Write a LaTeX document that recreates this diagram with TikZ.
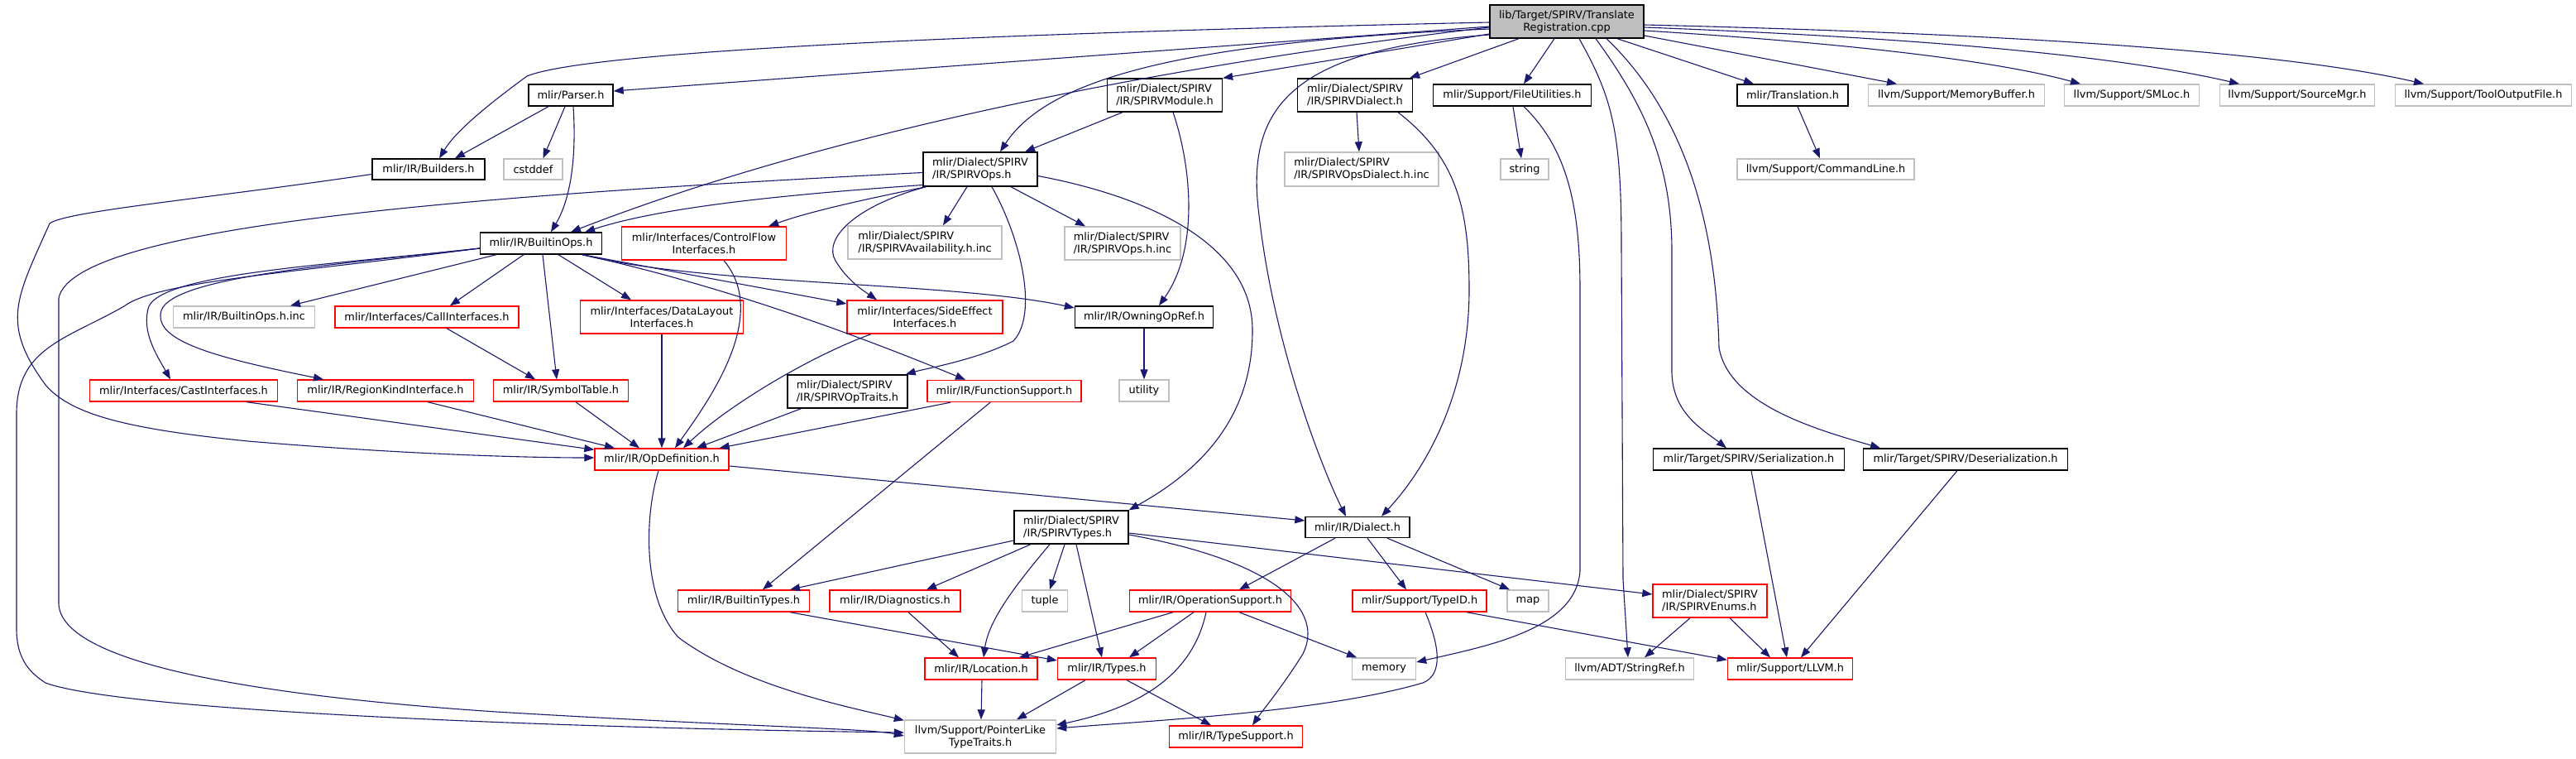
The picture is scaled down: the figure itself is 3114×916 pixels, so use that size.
\documentclass[tikz,border=0pt]{standalone}
\usepackage{fontspec}
\setmainfont{DejaVu Sans}
\usetikzlibrary{arrows.meta}
\definecolor{edgec}{HTML}{191970}
\definecolor{gbord}{HTML}{BFBFBF}
\definecolor{rbord}{HTML}{FF0000}
\definecolor{tfill}{HTML}{BFBFBF}
\newcommand\nf{\fontsize{12.9}{15}\selectfont}
\tikzset{
  wh/.style 2 args={minimum width=#1pt, minimum height=#2pt},
  base/.style={line width=1.4pt, inner sep=0pt, font=\nf, align=center, fill=white},
  bn/.style={base, draw=black},
  rn/.style={base, draw=rbord},
  gn/.style={base, draw=gbord},
  lft/.style={align=left},
  e/.style={draw=edgec, line width=1.1pt, -{Triangle[length=12pt,width=9pt]}, fill=none},
}
\begin{document}
\begin{tikzpicture}[x=1pt,y=-1pt]
\fill[white] (0,0) rectangle (3114,916);
\useasboundingbox (0,0) rectangle (3114,916);

% ---------------- nodes ----------------
\node[bn, wh={186}{40}, fill=tfill] (T) at (1894,26) {lib/Target/SPIRV/Translate\\Registration.cpp};
\node[bn, wh={102}{26}] (parser) at (690,115) {mlir/Parser.h};
\node[bn, wh={136}{25}] (builders) at (518,204.5) {mlir/IR/Builders.h};
\node[gn, wh={71}{25}] (cstddef) at (644.5,204.5) {cstddef};
\node[bn, wh={147}{26}] (builtinops) at (654,294) {mlir/IR/BuiltinOps.h};
\node[rn, wh={199}{40}] (controlflow) at (851,294) {mlir/Interfaces/ControlFlow\\Interfaces.h};
\node[gn, wh={171}{26}] (builtinopsinc) at (295,383) {mlir/IR/BuiltinOps.h.inc};
\node[rn, wh={222}{26}] (callif) at (516,383) {mlir/Interfaces/CallInterfaces.h};
\node[rn, wh={197}{40}] (datalayout) at (800,383) {mlir/Interfaces/DataLayout\\Interfaces.h};
\node[rn, wh={227}{26}] (castif) at (222,472) {mlir/Interfaces/CastInterfaces.h};
\node[rn, wh={213}{26}] (regionkind) at (466,472) {mlir/IR/RegionKindInterface.h};
\node[rn, wh={163}{26}] (symtab) at (678,472) {mlir/IR/SymbolTable.h};
\node[rn, wh={162}{26}] (opdef) at (800,555) {mlir/IR/OpDefinition.h};
\node[rn, wh={159}{26}] (builtintypes) at (899,726) {mlir/IR/BuiltinTypes.h};
\node[bn, wh={139}{40}, lft] (spirvmodule) at (1408,115) {mlir/Dialect/SPIRV\\/IR/SPIRVModule.h};
\node[bn, wh={139}{40}, lft] (spirvdialect) at (1638,115) {mlir/Dialect/SPIRV\\/IR/SPIRVDialect.h};
\node[bn, wh={191}{26}] (fileutil) at (1828,115) {mlir/Support/FileUtilities.h};
\node[bn, wh={138}{41}, lft] (spirvops) at (1185,204.5) {mlir/Dialect/SPIRV\\/IR/SPIRVOps.h};
\node[gn, wh={186}{41}, lft] (opsdialectinc) at (1646,204.5) {mlir/Dialect/SPIRV\\/IR/SPIRVOpsDialect.h.inc};
\node[gn, wh={58}{25}] (string) at (1843,204.5) {string};
\node[gn, wh={186}{40}, lft] (availinc) at (1118,293) {mlir/Dialect/SPIRV\\/IR/SPIRVAvailability.h.inc};
\node[gn, wh={140}{40}, lft] (opsinc) at (1357,294) {mlir/Dialect/SPIRV\\/IR/SPIRVOps.h.inc};
\node[rn, wh={188}{40}] (sideeffect) at (1118,383) {mlir/Interfaces/SideEffect\\Interfaces.h};
\node[bn, wh={167}{26}] (owning) at (1383,383) {mlir/IR/OwningOpRef.h};
\node[bn, wh={134}{26}] (translation) at (2167,115) {mlir/Translation.h};
\node[gn, wh={213}{26}] (memorybuffer) at (2365,115) {llvm/Support/MemoryBuffer.h};
\node[gn, wh={163}{26}] (smloc) at (2577,115) {llvm/Support/SMLoc.h};
\node[gn, wh={187}{26}] (sourcemgr) at (2777,115) {llvm/Support/SourceMgr.h};
\node[gn, wh={213}{26}] (tooloutput) at (3002,115) {llvm/Support/ToolOutputFile.h};
\node[gn, wh={214}{25}] (commandline) at (2207,204.5) {llvm/Support/CommandLine.h};
\node[bn, wh={145}{40}, lft] (spirvoptraits) at (1024.5,473) {mlir/Dialect/SPIRV\\/IR/SPIRVOpTraits.h};
\node[rn, wh={186}{26}] (funcsupport) at (1214,472.5) {mlir/IR/FunctionSupport.h};
\node[gn, wh={60}{26}] (utility) at (1383,472) {utility};
\node[bn, wh={138}{40}, lft] (spirvtypes) at (1295,637) {mlir/Dialect/SPIRV\\/IR/SPIRVTypes.h};
\node[bn, wh={126}{25}] (dialect) at (1641,637) {mlir/IR/Dialect.h};
\node[rn, wh={158}{26}] (diagnostics) at (1082,726) {mlir/IR/Diagnostics.h};
\node[gn, wh={55}{26}] (tuple) at (1263,726) {tuple};
\node[rn, wh={195}{26}] (opsupport) at (1463,726) {mlir/IR/OperationSupport.h};
\node[rn, wh={162}{26}] (typeid) at (1716,726) {mlir/Support/TypeID.h};
\node[gn, wh={50}{26}] (map) at (1847,726) {map};
\node[rn, wh={138}{40}, lft] (enums) at (2067,726) {mlir/Dialect/SPIRV\\/IR/SPIRVEnums.h};
\node[rn, wh={136}{26}] (location) at (1186,808) {mlir/IR/Location.h};
\node[rn, wh={119}{26}] (types) at (1338,808) {mlir/IR/Types.h};
\node[gn, wh={77}{26}] (memory) at (1673,808) {memory};
\node[gn, wh={155}{26}] (stringref) at (1970,808) {llvm/ADT/StringRef.h};
\node[gn, wh={183}{40}] (pointerlike) at (1185,890) {llvm/Support/PointerLike\\TypeTraits.h};
\node[rn, wh={161}{26}] (typesupport) at (1494,890) {mlir/IR/TypeSupport.h};
\node[bn, wh={231}{26}] (serialization) at (2114,555) {mlir/Target/SPIRV/Serialization.h};
\node[bn, wh={247}{26}] (deserialization) at (2376,555) {mlir/Target/SPIRV/Deserialization.h};
\node[rn, wh={151}{26}] (llvmh) at (2164,808) {mlir/Support/LLVM.h};

% ---------------- edges from TranslateRegistration.cpp ----------------
\draw[e] ([yshift=-1]T.west) .. controls (1300,38) and (720,58) .. (637,92) .. controls (585,130) and (550,160) .. ([xshift=13]builders.north);
\draw[e] ([yshift=-6]T.west) -- ([yshift=5]parser.east);
\draw[e] ([yshift=-7]T.west) .. controls (1400,80) and (1000,160) .. ([xshift=36]builtinops.north);
\draw[e] ([yshift=-9]T.west) .. controls (1450,50) and (1270,90) .. ([xshift=24]spirvops.north);
\draw[e] ([yshift=-15]T.west) -- (spirvmodule.north east);
\draw[e] ([xshift=-58]T.south) -- ([xshift=-4]spirvdialect.north east);
\draw[e] ([xshift=-15]T.south) -- ([xshift=14]fileutil.north);
\draw[e] ([yshift=-16]T.west) .. controls (1560,60) and (1505,130) .. (1522,260) .. controls (1540,420) and (1600,570) .. ([xshift=-14]dialect.north);
\draw[e] ([xshift=15]T.south) .. controls (1950,120) and (1960,160) .. (1960,300) -- (1962,700) -- ([xshift=-2]stringref.north);
\draw[e] ([xshift=35]T.south) .. controls (1990,130) and (2020,200) .. (2021,300) -- (2021,450) .. controls (2022,500) and (2060,520) .. ([xshift=-27]serialization.north);
\draw[e] ([xshift=48]T.south) .. controls (2050,150) and (2075,300) .. (2078,420) .. controls (2090,490) and (2200,520) .. ([xshift=-103]deserialization.north);
\draw[e] ([xshift=61]T.south) -- ([xshift=-47]translation.north);
\draw[e] ([yshift=-17]T.east) -- ([xshift=-72]memorybuffer.north);
\draw[e] ([yshift=-11]T.east) .. controls (2200,50) and (2400,70) .. ([xshift=-62]smloc.north);
\draw[e] ([yshift=-7]T.east) .. controls (2300,45) and (2550,65) .. ([xshift=-70]sourcemgr.north);
\draw[e] ([yshift=-4]T.east) .. controls (2400,40) and (2750,60) .. ([xshift=-72]tooloutput.north);

% ---------------- Parser / Builders ----------------
\draw[e] ([xshift=-27]parser.south) -- ([xshift=32]builders.north);
\draw[e] ([xshift=-7]parser.south) -- ([xshift=12]cstddef.north);
\draw[e] ([xshift=3]parser.south) .. controls (697,190) and (690,240) .. ([xshift=12]builtinops.north);
\draw[e] ([yshift=-6]builders.west) .. controls (250,240) and (80,255) .. (60,270) .. controls (20,360) and (0,390) .. (55,465) .. controls (85,500) and (150,518) .. (300,533) .. controls (500,550) and (650,553) .. ([yshift=2]opdef.west);

% ---------------- BuiltinOps ----------------
\draw[e] ([xshift=-54]builtinops.south) -- ([xshift=56]builtinopsinc.north);
\draw[e] ([xshift=-21]builtinops.south) -- ([xshift=28]callif.north);
\draw[e] ([xshift=2]builtinops.south) -- ([xshift=-5]symtab.north);
\draw[e] ([xshift=21]builtinops.south) -- ([xshift=-37]datalayout.north);
\draw[e] ([xshift=-24]builtinops.south east) -- ([yshift=16]sideeffect.west);
\draw[e] ([xshift=-24]builtinops.south east) .. controls (850,345) and (1150,340) .. ([yshift=11]owning.west);
\draw[e] ([xshift=-24]builtinops.south east) .. controls (850,340) and (1000,390) .. ([xshift=-47]funcsupport.north);
\draw[e] ([yshift=-6]builtinops.west) .. controls (400,320) and (200,330) .. (180,370) .. controls (170,400) and (190,430) .. ([xshift=-16]castif.north);
\draw[e] ([yshift=-6]builtinops.west) .. controls (400,320) and (210,335) .. (195,375) .. controls (185,410) and (250,430) .. ([xshift=-75]regionkind.north);
\draw[e] ([yshift=-6]builtinops.west) .. controls (350,330) and (190,340) .. (150,370) .. controls (80,410) and (20,420) .. (20,500) -- (20,760) .. controls (20,800) and (40,815) .. (55,825) .. controls (150,860) and (700,880) .. ([yshift=5]pointerlike.west);

% ---------------- SPIRVOps ----------------
\draw[e] ([yshift=-19]spirvops.west) .. controls (950,235) and (800,250) .. ([xshift=-21]builtinops.north east);
\draw[e] ([yshift=-4]spirvops.west) .. controls (600,235) and (90,270) .. (71,360) -- (71,730) .. controls (75,800) and (300,840) .. (600,860) .. controls (900,878) and (1050,880) .. ([yshift=1]pointerlike.west);
\draw[e] ([xshift=4]spirvops.south west) .. controls (1050,240) and (980,255) .. ([xshift=-22]controlflow.north east);
\draw[e] ([xshift=4]spirvops.south west) .. controls (1030,250) and (995,290) .. (1010,315) .. controls (1025,340) and (1045,352) .. ([xshift=-58]sideeffect.north);
\draw[e] ([xshift=-16]spirvops.south) -- ([xshift=22]availinc.north);
\draw[e] ([xshift=37]spirvops.south) -- ([xshift=-45]opsinc.north);
\draw[e] ([xshift=14]spirvops.south) .. controls (1235,290) and (1255,380) .. (1225,412) .. controls (1180,435) and (1120,445) .. ([xshift=-3]spirvoptraits.north east);
\draw[e] ([yshift=-8]spirvops.east) .. controls (1400,240) and (1515,300) .. (1514,400) .. controls (1514,520) and (1430,580) .. (spirvtypes.north east);

% ---------------- SPIRVModule / SPIRVDialect / FileUtilities / Translation ----------------
\draw[e] ([xshift=-51]spirvmodule.south) -- ([xshift=54]spirvops.north);
\draw[e] ([xshift=10]spirvmodule.south) .. controls (1440,200) and (1450,300) .. ([xshift=18]owning.north);
\draw[e] ([xshift=2]spirvdialect.south) -- ([xshift=-3]opsdialectinc.north);
\draw[e] ([xshift=52]spirvdialect.south) .. controls (1760,190) and (1776,250) .. (1776,350) .. controls (1776,480) and (1720,570) .. ([xshift=29]dialect.north);
\draw[e] ([xshift=1]fileutil.south) -- ([xshift=-4]string.north);
\draw[e] ([xshift=14]fileutil.south) .. controls (1895,180) and (1910,250) .. (1910,350) -- (1910,690) .. controls (1905,760) and (1800,780) .. ([yshift=8]memory.east);
\draw[e] ([xshift=6]translation.south) -- ([xshift=-7]commandline.north);
\draw[e] (owning.south) -- (utility.north);

% ---------------- into OpDefinition ----------------
\draw[e] ([xshift=24]callif.south) -- ([xshift=-31]symtab.north);
\draw[e] (datalayout.south) -- (opdef.north);
\draw[e] ([xshift=24]controlflow.south) .. controls (930,380) and (860,480) .. ([xshift=16]opdef.north);
\draw[e] ([xshift=-65]sideeffect.south) .. controls (980,430) and (880,490) .. ([xshift=26]opdef.north);
\draw[e] ([xshift=-56]spirvoptraits.south) -- ([xshift=42]opdef.north);
\draw[e] ([xshift=-65]funcsupport.south) -- ([xshift=-12]opdef.north east);
\draw[e] ([xshift=76]castif.south) -- ([yshift=-2]opdef.north west);
\draw[e] ([xshift=51]regionkind.south) -- ([xshift=-57]opdef.north);
\draw[e] ([xshift=18]symtab.south) -- ([xshift=-27]opdef.north);
\draw[e] ([xshift=-17]funcsupport.south) -- ([xshift=23]builtintypes.north);

% ---------------- OpDefinition ----------------
\draw[e] ([yshift=-8]opdef.east) -- ([yshift=8]dialect.west);
\draw[e] ([xshift=-4]opdef.south) .. controls (780,620) and (775,720) .. (820,770) .. controls (900,830) and (1030,855) .. ([yshift=-1]pointerlike.north west);

% ---------------- SPIRVTypes ----------------
\draw[e] ([yshift=-16]spirvtypes.west) -- ([xshift=56]builtintypes.north);
\draw[e] ([xshift=-49]spirvtypes.south) -- ([xshift=38]diagnostics.north);
\draw[e] ([xshift=-26]spirvtypes.south) .. controls (1225,710) and (1195,750) .. ([xshift=3]location.north);
\draw[e] ([xshift=-8]spirvtypes.south) -- ([xshift=6]tuple.north);
\draw[e] ([xshift=6]spirvtypes.south) -- ([xshift=-6]types.north);
\draw[e] ([yshift=-9]spirvtypes.east) .. controls (1550,680) and (1600,740) .. (1575,790) .. controls (1550,830) and (1525,860) .. ([xshift=20]typesupport.north);
\draw[e] ([yshift=-7]spirvtypes.east) -- ([yshift=8]enums.west);

% ---------------- Dialect ----------------
\draw[e] ([xshift=-27]dialect.south) -- ([xshift=35]opsupport.north);
\draw[e] ([xshift=12]dialect.south) -- ([xshift=-16]typeid.north);
\draw[e] ([xshift=36]dialect.south) -- ([xshift=-22]map.north);

% ---------------- lower level ----------------
\draw[e] ([xshift=16]diagnostics.south) -- ([xshift=-27]location.north);
\draw[e] ([xshift=56]builtintypes.south) -- ([yshift=10]types.west);
\draw[e] ([xshift=-45]opsupport.south) -- ([xshift=46]location.north);
\draw[e] ([xshift=-20]opsupport.south) -- ([xshift=27]types.north);
\draw[e] ([xshift=35]opsupport.south) -- ([xshift=-33]memory.north);
\draw[e] ([xshift=-5]opsupport.south) .. controls (1445,800) and (1400,850) .. ([yshift=14]pointerlike.east);
\draw[e] ([xshift=57]typeid.south) -- ([yshift=-3]llvmh.north west);
\draw[e] ([xshift=7]typeid.south) .. controls (1740,780) and (1745,815) .. (1720,825) .. controls (1600,860) and (1400,870) .. ([yshift=10]pointerlike.east);
\draw[e] ([xshift=-24]enums.south) -- ([xshift=18]stringref.north);
\draw[e] ([xshift=24]enums.south) -- ([xshift=-24]llvmh.north);
\draw[e] ([xshift=3]serialization.south) -- ([xshift=-4]llvmh.north);
\draw[e] ([xshift=-10]deserialization.south) -- ([xshift=13]llvmh.north);
\draw[e] ([xshift=1]location.south) -- ([xshift=1]pointerlike.north);
\draw[e] ([xshift=-26]types.south) -- ([xshift=44]pointerlike.north);
\draw[e] ([xshift=24]types.south) -- ([xshift=-30]typesupport.north);
\end{tikzpicture}
\end{document}
